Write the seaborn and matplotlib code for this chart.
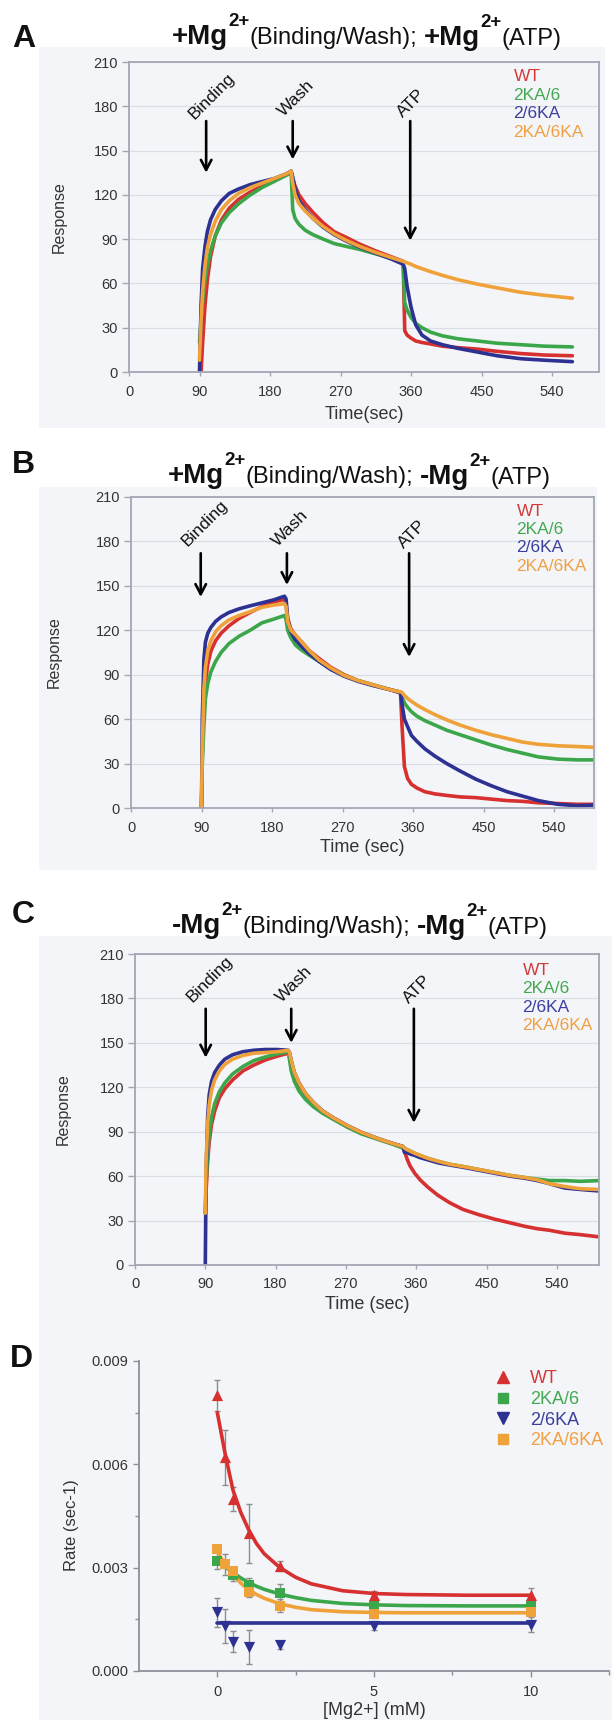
import numpy as np
import pandas as pd
import seaborn as sns
import matplotlib.pyplot as plt
from matplotlib.patches import Rectangle
from matplotlib.lines import Line2D

# ---------------- values ----------------
mutants = ['WT', '2KA/6', '2/6KA', '2KA/6KA']

# panel A: +Mg binding/wash, +Mg ATP
a_time = [90, 92, 94, 97, 100, 104, 110, 118, 128, 140, 155, 170, 185, 200, 207,
          209, 212, 217, 225, 235, 248, 262, 278, 295, 315, 335, 350,
          352, 355, 360, 366, 374, 385, 400, 420, 445, 470, 500, 530, 566]
a_wt = [0, 0, 20, 45, 62, 78, 92, 103, 111, 117, 122, 126, 130, 133.5, 136,
        131, 126, 120, 114, 108, 101, 95, 91, 86.5, 82, 78, 75,
        28, 25, 23, 21, 20, 19, 17.5, 16.5, 15.5, 14, 12.5, 11.5, 11]
a_2ka6 = [20, 35, 48, 62, 72, 82, 92, 101, 108, 114, 120, 125, 129, 133, 135,
          110, 104, 100, 96, 93, 90, 87, 85, 83, 80, 77, 74,
          47, 42, 37, 33, 30, 27, 24.5, 22.5, 21, 19.5, 18.5, 17.5, 17]
a_26ka = [0, 45, 70, 85, 95, 103, 110, 116, 121, 124, 127, 129, 131, 134, 136,
          132, 124, 116, 110, 104, 98, 93, 88.5, 84.5, 80.5, 76.5, 73,
          70, 58, 44, 32, 25, 21, 18.5, 16, 13.5, 11, 9, 8, 7]
a_2ka6ka = [8, 35, 55, 72, 84, 93, 102, 110, 116, 121, 125, 128, 131, 134, 136,
            128, 120, 114, 109, 104, 98.5, 93.5, 89, 85, 81, 77.5, 75,
            74.5, 74, 73, 71.5, 70, 68, 65.5, 62.5, 59.5, 57, 54, 52, 50]

# panel B: +Mg binding/wash, -Mg ATP
b_time = [90, 91, 93, 95, 98, 102, 108, 115, 125, 138, 152, 167, 182, 196,
          198, 200, 204, 210, 218, 228, 240, 255, 272, 290, 310, 330, 342,
          344, 346, 349, 353, 358, 365, 375, 388, 403, 420, 440, 460, 480, 500, 520, 545, 570, 591]
b_wt = [0, 35, 70, 85, 97, 106, 113, 118, 123, 128, 132, 136, 139, 141,
        137, 128, 121, 116.5, 112, 106, 101, 95, 90, 86, 83, 80, 78.5,
        78, 55, 28, 20, 16, 13.5, 11, 9.5, 8.5, 7.5, 7, 6, 5, 4.5, 3.5, 3, 2.5, 2.5]
b_2ka6 = [0, 30, 55, 74, 84, 92, 99, 105, 111, 116, 120, 125, 127.5, 130,
          127, 120, 115, 110, 106.5, 103, 99, 94, 89.5, 86, 83, 80, 78.5,
          78, 75, 71, 68, 65, 62, 59, 56, 52.5, 49.5, 46, 42.5, 39.5, 37, 34.5, 33, 32.5, 32.5]
b_26ka = [0, 60, 100, 112, 118, 122, 126, 129, 132, 134.5, 136.5, 138.5, 140.5, 143,
          141, 127, 119, 113.5, 109, 104, 99, 93.5, 89, 85.5, 82.5, 80, 78,
          78, 70, 60, 55, 49, 45, 40, 35, 30, 25, 19.5, 15, 11, 8, 5, 2.5, 1.5, 2]
b_2ka6ka = [0, 40, 80, 95, 106, 113, 119, 123, 127, 130, 132.5, 135.5, 137, 138,
            136, 126, 120, 117, 112, 106, 100, 94.5, 89.5, 86, 83, 80, 78.5,
            78.5, 78, 76, 74, 72, 69.5, 66.5, 63, 59.5, 56, 52.5, 49.5, 47, 44.5, 43, 42, 41.5, 41]

# panel C: -Mg binding/wash, -Mg ATP
c_time = [90, 91, 93, 95, 98, 102, 108, 115, 125, 138, 152, 167, 182, 196,
          198, 200, 204, 210, 218, 228, 240, 255, 272, 290, 310, 330, 343,
          345, 348, 352, 358, 365, 375, 388, 403, 420, 440, 460, 480, 500, 515, 530, 550, 570, 594]
c_wt = [35, 50, 70, 83, 95, 104, 113, 119, 125, 131, 135, 138.5, 141, 143,
        142, 137, 129, 122, 115.5, 109.5, 104, 99, 94, 89.5, 85.5, 82, 80,
        77, 72, 67, 62, 57.5, 52.5, 47, 42, 37.5, 34, 31, 28.5, 26, 24.5, 23.5, 21.5, 20.5, 19]
c_2ka6 = [35, 55, 75, 88, 100, 109, 117, 123, 129, 134, 138, 140.5, 142.5, 144,
          138, 131, 124, 117.5, 112, 107, 102.5, 98, 93, 88.5, 85, 81.5, 79,
          79, 78, 77, 75.5, 74, 72, 70, 68, 66.5, 64.5, 62.5, 60.5, 59, 58, 57, 57, 56.5, 57]
c_26ka = [0, 60, 100, 115, 124, 130, 135, 139, 142, 144, 145, 145.5, 145.5, 145,
          143, 138, 130, 123, 116, 110, 104, 99, 94, 89.5, 85.5, 82, 80,
          76, 76, 75, 74, 72.5, 71, 69, 67.5, 66, 64, 62, 60, 58.5, 57, 55, 52, 51, 50]
c_2ka6ka = [35, 70, 95, 108, 118, 125, 131, 135.5, 139, 141.5, 143, 143.5, 144, 145,
            143, 138, 130, 123, 116, 110, 104, 99, 94, 89.5, 85.5, 82, 80,
            79, 78, 77, 75.5, 74, 72, 70, 68, 66.5, 64.5, 62.5, 60.5, 59, 57.5, 55, 53, 51.5, 51]

# panel D: rate vs [Mg2+]
d_mg = [0, 0.25, 0.5, 1, 2, 5, 10]
d_wt = [0.0080, 0.0062, 0.0050, 0.0040, 0.00305, 0.0022, 0.0022]
d_wt_err = [0.00045, 0.0008, 0.00035, 0.00085, 0.00015, 0.00012, 0.0002]
d_2ka6 = [0.0032, 0.0031, 0.0028, 0.0025, 0.00227, 0.0019, 0.0019]
d_2ka6_err = [0.00025, 0.0003, 0.0002, 0.0002, 0.00025, 0.00015, 0.00015]
d_26ka = [0.0017, 0.0013, 0.00085, 0.0007, 0.00075, 0.0013, 0.00135]
d_26ka_err = [0.00042, 0.0005, 0.0003, 0.0005, 0.0001, 0.0001, 0.00022]
d_2ka6ka = [0.00355, 0.0031, 0.0029, 0.0023, 0.0019, 0.00165, 0.00172]
d_2ka6ka_err = [0.0001, 0.0001, 0.0001, 0.00015, 0.0002, 0.0001, 0.0001]

d_fit_mg = [0, 0.25, 0.5, 0.75, 1, 1.25, 1.5, 2, 2.5, 3, 4, 5, 6, 8, 10]
d_fit_wt = [0.0075, 0.0063, 0.00525, 0.0046, 0.0041, 0.0037, 0.0034, 0.0030,
            0.00272, 0.00253, 0.00233, 0.00225, 0.00222, 0.0022, 0.0022]
d_fit_2ka6 = [0.0032, 0.00302, 0.00286, 0.0027, 0.00257, 0.00246, 0.00237, 0.00223,
              0.00213, 0.00205, 0.00196, 0.00192, 0.0019, 0.00189, 0.00189]
d_fit_26ka = [0.0014, 0.0014, 0.0014, 0.0014, 0.0014, 0.0014, 0.0014, 0.0014,
              0.0014, 0.0014, 0.0014, 0.0014, 0.0014, 0.0014, 0.0014]
d_fit_2ka6ka = [0.00345, 0.0031, 0.0028, 0.00255, 0.00236, 0.00222, 0.00211, 0.00195,
                0.00185, 0.00178, 0.00172, 0.0017, 0.00169, 0.00169, 0.00169]

# ---------------- styling ----------------
line_colors = {'WT': '#d63030', '2KA/6': '#3ca64b', '2/6KA': '#2c3192', '2KA/6KA': '#f0a23a'}
text_colors = {'WT': '#d23a3a', '2KA/6': '#43a951', '2/6KA': '#3b40a0', '2KA/6KA': '#f0a043'}
BG = '#f4f5f8'
SPINE = '#a3a7b5'
TXT = '#333333'

sns.set_theme(style='ticks')
plt.rcParams['font.family'] = ['Liberation Sans', 'DejaVu Sans']

W, H = 612, 1720
fig = plt.figure(figsize=(W / 100, H / 100), dpi=100)


def px_rect(l, t, r, b):
    return [l / W, 1 - b / H, (r - l) / W, (b - t) / H]


for l, t, r, b in [(39, 47, 605, 428), (39, 487, 597, 870), (39, 936, 612, 1720)]:
    fig.add_artist(Rectangle((l / W, 1 - b / H), (r - l) / W, (b - t) / H,
                             transform=fig.transFigure, facecolor=BG,
                             edgecolor='none', zorder=-5))

ov = fig.add_axes([0, 0, 1, 1], zorder=10)
ov.axis('off')


def panel_title(x_px, base_px, sign1, sign2):
    pieces = [(sign1 + 'Mg', 'bold'), ('2+', 'sup'), ('(Binding/Wash);', 'normal'),
              (sign2 + 'Mg', 'bold'), ('2+', 'sup'), ('(ATP)', 'normal')]
    prev = ov.text(x_px / W, 1 - base_px / H, pieces[0][0], fontsize=20,
                   fontweight='bold', ha='left', va='baseline',
                   transform=ov.transAxes, color='#111111')
    base = prev
    for txt, kind in pieces[1:]:
        if kind == 'sup':
            prev = ov.annotate(txt, xy=(1, 1), xycoords=base, xytext=(0.2, -1.5),
                               textcoords='offset points', fontsize=13.5,
                               fontweight='bold', ha='left', va='baseline',
                               color='#111111')
        elif kind == 'bold':
            prev = ov.annotate(txt, xy=(1, 0), xycoords=(prev, base), xytext=(4.5, -0.6),
                               textcoords='offset points', fontsize=20,
                               fontweight='bold', ha='left', va='bottom',
                               color='#111111')
            base = prev
        else:
            prev = ov.annotate(txt, xy=(1, 0), xycoords=(prev, base), xytext=(0, 0.7),
                               textcoords='offset points', fontsize=17,
                               ha='left', va='bottom', color='#111111')


def trace_panel(box, time, series, xmax, xlabel, xlab_y, ylab_x, arrows, leg_x, leg_y):
    ax = fig.add_axes(px_rect(*box))
    ax.set_facecolor(BG)
    df = pd.DataFrame({
        'time': np.tile(time, len(series)),
        'response': np.concatenate(series),
        'mutant': np.repeat(mutants, len(time)),
    })
    sns.lineplot(data=df, x='time', y='response', hue='mutant', hue_order=mutants,
                 palette=line_colors, estimator=None, sort=False, linewidth=2.6,
                 legend=False, ax=ax)
    ax.set_xlim(0, xmax)
    ax.set_ylim(0, 210)
    ax.set_xticks(range(0, 541, 90))
    ax.set_yticks(range(0, 211, 30))
    ax.yaxis.grid(True, color='#dcdee5', linewidth=0.9)
    ax.set_axisbelow(True)
    for s in ax.spines.values():
        s.set_color(SPINE)
        s.set_linewidth(1.3)
    ax.tick_params(axis='y', length=5, width=1, color=SPINE, pad=3,
                   labelsize=10.5, labelcolor=TXT)
    ax.tick_params(axis='x', length=3, width=1, color=SPINE, pad=6,
                   labelsize=10.5, labelcolor=TXT)
    ax.set_xlabel(xlabel, fontsize=13, color=TXT)
    ax.set_ylabel('Response', fontsize=11.5, color=TXT)
    ax.xaxis.set_label_coords(0.5, xlab_y)
    ax.yaxis.set_label_coords(ylab_x, 0.5)

    for label, xa, ytop, ytip, xt, yt in arrows:
        ax.annotate('', xy=(xa, ytip), xytext=(xa, ytop),
                    arrowprops=dict(arrowstyle='->,head_length=0.4,head_width=0.21',
                                    lw=1.9, color='black', shrinkA=0, shrinkB=0,
                                    mutation_scale=18))
        ax.text(xt, yt, label, rotation=45, rotation_mode='anchor', ha='left',
                va='baseline', fontsize=12.5, color='#111111')

    for name, y in zip(mutants, leg_y):
        ax.text(leg_x, y, name, color=text_colors[name], fontsize=12.5,
                ha='left', va='center')
    return ax


# panel A
ov.text(12 / W, 1 - 47 / H, 'A', fontsize=23, fontweight='bold', va='baseline',
        transform=ov.transAxes, color='#111111')
panel_title(172, 44, '+', '+')
trace_panel((129, 62, 599, 372), a_time, [a_wt, a_2ka6, a_26ka, a_2ka6ka], 600,
            'Time(sec)', -0.11, -0.132,
            [('Binding', 98.5, 170, 135, 83, 171),
             ('Wash', 209, 170, 144, 198, 173),
             ('ATP', 359, 170, 89, 350, 172)],
            491, [200, 187, 175, 162])

# panel B
ov.text(12 / W, 1 - 473 / H, 'B', fontsize=23, fontweight='bold', va='baseline',
        transform=ov.transAxes, color='#111111')
panel_title(168, 483, '+', '-')
trace_panel((131, 497, 594, 808), b_time, [b_wt, b_2ka6, b_26ka, b_2ka6ka], 591,
            'Time (sec)', -0.1, -0.149,
            [('Binding', 89, 172, 142.5, 72, 176),
             ('Wash', 199, 172, 150.6, 187, 176),
             ('ATP', 355, 172, 102, 349, 175)],
            492, [200, 188, 176, 163])

# panel C
ov.text(12 / W, 1 - 923 / H, 'C', fontsize=23, fontweight='bold', va='baseline',
        transform=ov.transAxes, color='#111111')
panel_title(172, 933, '-', '-')
trace_panel((135, 954, 599, 1265), c_time, [c_wt, c_2ka6, c_26ka, c_2ka6ka], 594,
            'Time (sec)', -0.1, -0.138,
            [('Binding', 90.5, 173, 140, 73, 177),
             ('Wash', 200, 173, 150, 188, 177),
             ('ATP', 357, 173, 96, 351, 176)],
            496, [199, 187, 174, 162])

# panel D
ov.text(10 / W, 1 - 1367 / H, 'D', fontsize=23, fontweight='bold', va='baseline',
        transform=ov.transAxes, color='#111111')
axd = fig.add_axes(px_rect(139, 1361, 609, 1671))
axd.set_facecolor(BG)
d_sets = [
    ('WT', d_wt, d_wt_err, d_fit_wt, '^', 65),
    ('2KA/6', d_2ka6, d_2ka6_err, d_fit_2ka6, 's', 48),
    ('2/6KA', d_26ka, d_26ka_err, d_fit_26ka, 'v', 65),
    ('2KA/6KA', d_2ka6ka, d_2ka6ka_err, d_fit_2ka6ka, 's', 48),
]
handles = []
for name, vals, err, fit, marker, size in d_sets:
    axd.errorbar(d_mg, vals, yerr=err, fmt='none', ecolor='#8d8d8d',
                 elinewidth=1, capsize=2.5, capthick=1, zorder=2)
    sns.lineplot(x=d_fit_mg, y=fit, color=line_colors[name], linewidth=2.6,
                 ax=axd, zorder=3)
    sns.scatterplot(x=d_mg, y=vals, marker=marker, color=line_colors[name],
                    s=size, linewidth=0, ax=axd, zorder=4)
    handles.append(Line2D([], [], marker=marker, linestyle='none',
                          color=line_colors[name],
                          markersize=9 if marker != 's' else 7.5))

axd.set_xlim(-2.5, 12.5)
axd.set_ylim(0, 0.009)
axd.set_xticks([0, 5, 10])
axd.set_xticks([2.5, 7.5, 12.5], minor=True)
axd.set_yticks([0, 0.003, 0.006, 0.009])
axd.set_yticks([0.0015, 0.0045, 0.0075], minor=True)
axd.yaxis.set_major_formatter(plt.FormatStrFormatter('%.3f'))
sns.despine(ax=axd)
for s in ('left', 'bottom'):
    axd.spines[s].set_color('#8c909b')
    axd.spines[s].set_linewidth(1.3)
axd.tick_params(axis='both', which='major', length=4, width=1, color='#8c909b',
                labelsize=10.5, labelcolor=TXT)
axd.tick_params(axis='both', which='minor', length=3, width=1, color='#8c909b')
axd.tick_params(axis='x', which='both', pad=6)
axd.set_xlabel('[Mg2+] (mM)', fontsize=13, color=TXT)
axd.set_ylabel('Rate (sec-1)', fontsize=12, color=TXT)
axd.xaxis.set_label_coords(0.5, -0.1)
axd.yaxis.set_label_coords(-0.128, 0.47)
leg = axd.legend(handles, mutants, loc='upper left', bbox_to_anchor=(0.755, 0.97),
                 frameon=False, fontsize=13, handlelength=1.0, handletextpad=1.0,
                 labelspacing=0.2, borderpad=0, borderaxespad=0,
                 labelcolor=[text_colors[m] for m in mutants])

fig.savefig('out.png', dpi=100)
plt.close(fig)
